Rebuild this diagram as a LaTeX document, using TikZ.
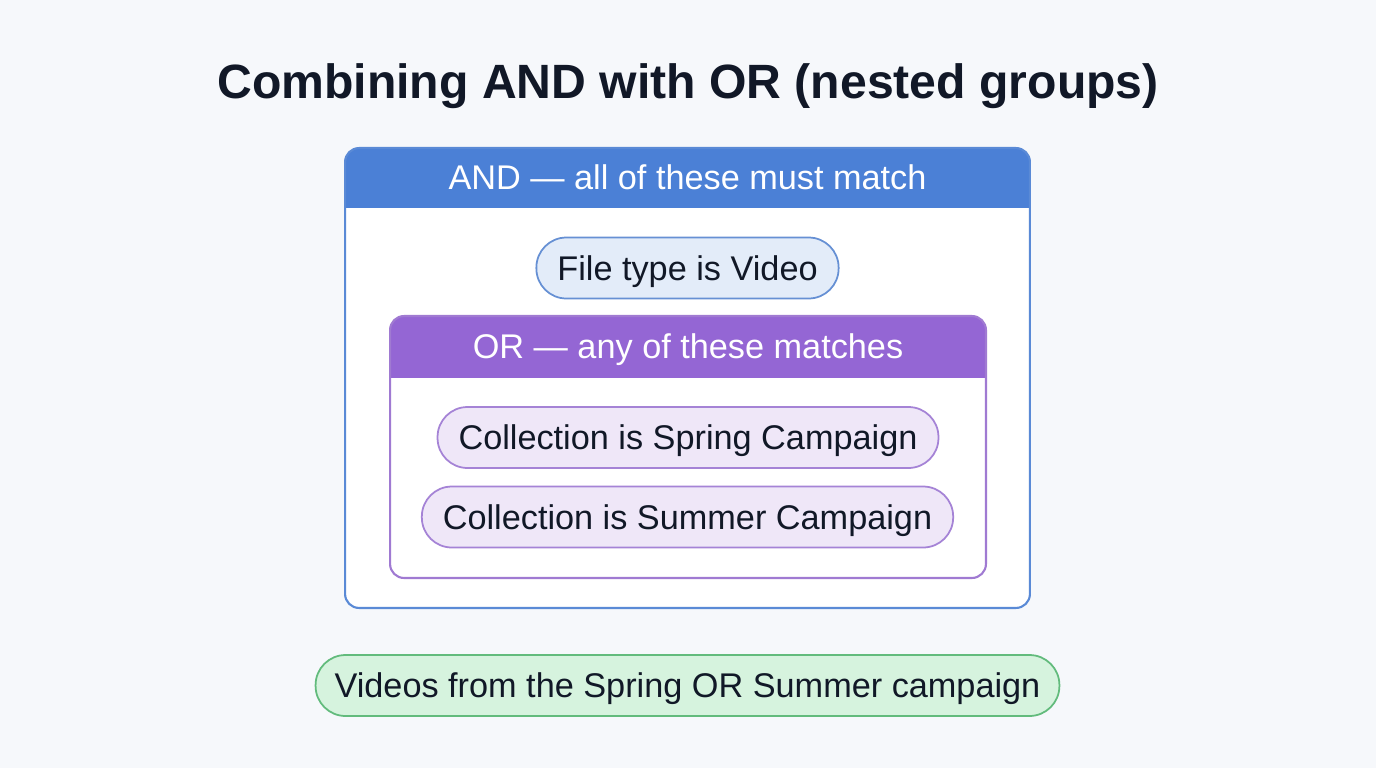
\documentclass[tikz,border=0pt]{standalone}
\usepackage{fontspec}
\setmainfont{Liberation Sans}
\usepackage{xcolor}
\usepackage{tikz}
\usetikzlibrary{positioning}
\definecolor{pagebg}{HTML}{F6F8FB}
\definecolor{inkdark}{HTML}{111827}
\definecolor{andblue}{HTML}{4B80D6}
\definecolor{andline}{HTML}{5A8AD6}
\definecolor{vidfill}{HTML}{E3ECF9}
\definecolor{vidline}{HTML}{6690D4}
\definecolor{orpurple}{HTML}{9466D4}
\definecolor{orline}{HTML}{A07AD2}
\definecolor{colfill}{HTML}{EFE7F8}
\definecolor{colline}{HTML}{A583D6}
\definecolor{resfill}{HTML}{D6F3DE}
\definecolor{resline}{HTML}{62BB7C}
\tikzset{
  group/.style={rectangle, draw, line width=1.2pt, rounded corners=0.28cm, fill=white},
  andgroup/.style={group, draw=andline, path picture={\fill[andblue, sharp corners] (path picture bounding box.north west) rectangle ([yshift=-1.2cm]path picture bounding box.north east);}},
  orgroup/.style={group, draw=orline, path picture={\fill[orpurple, sharp corners] (path picture bounding box.north west) rectangle ([yshift=-1.24cm]path picture bounding box.north east);}},
  header/.style={font=\fontsize{19.5}{22}\selectfont, text=white, text height=18.9pt, text depth=4.9pt},
  pill/.style={rectangle, draw, line width=1pt, rounded corners=0.6cm, minimum height=1.22cm, inner xsep=0.42cm, inner ysep=0pt, text height=18.9pt, text depth=4.9pt, font=\fontsize{19.5}{22}\selectfont, text=inkdark},
  vidpill/.style={pill, fill=vidfill, draw=vidline},
  colpill/.style={pill, fill=colfill, draw=colline},
  respill/.style={pill, fill=resfill, draw=resline, inner xsep=0.38cm},
}

\begin{document}
\begin{tikzpicture}[x=0.02cm, y=-0.02cm]
  % page
  \fill[pagebg] (0,0) rectangle (1376,768);
  \useasboundingbox (0,0) rectangle (1376,768);

  % title
  \node[font=\fontsize{27.4}{32}\selectfont\bfseries, text=inkdark, text height=26.6pt, text depth=6.9pt] (title) at (688,81) {Combining AND with OR (nested groups)};

  % AND group
  \node[andgroup, minimum width=13.7cm, minimum height=9.2cm] (andbox) at (687.5,378) {};
  \node[header] (andhead) at ([yshift=-0.6cm]andbox.north) {AND — all of these must match};
  \node[vidpill] (video) at (687.5,268) {File type is Video};

  % OR group
  \node[orgroup, minimum width=11.92cm, minimum height=5.24cm] (orbox) at (688,447) {};
  \node[header] (orhead) at ([yshift=-0.62cm]orbox.north) {OR — any of these matches};
  \node[colpill] (spring) at (688,437.5) {Collection is Spring Campaign};
  \node[colpill] (summer) at (687.5,517) {Collection is Summer Campaign};

  % result
  \node[respill] (result) at (687.5,685.5) {Videos from the Spring OR Summer campaign};
\end{tikzpicture}
\end{document}
